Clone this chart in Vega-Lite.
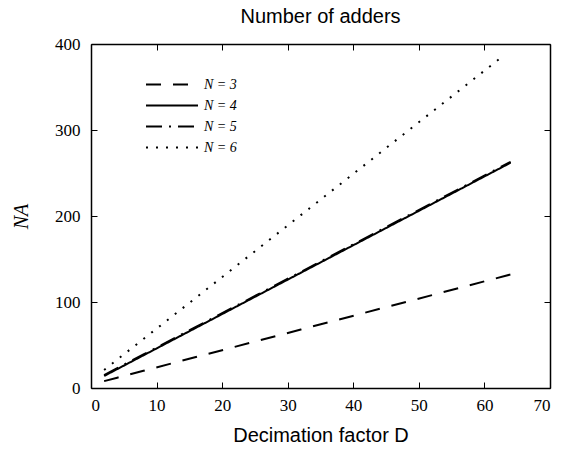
{
  "$schema": "https://vega.github.io/schema/vega-lite/v6.json",
  "width": 459,
  "height": 344,
  "autosize": {"type": "none"},
  "padding": {"left": 91, "top": 44, "right": 21, "bottom": 64},
  "background": "white",
  "title": {"text": "Number of adders", "font": "Liberation Sans", "fontSize": 20, "fontWeight": "normal", "color": "black", "anchor": "middle", "frame": "group", "baseline": "bottom", "offset": -12},
  "config": {
    "view": {"stroke": null},
    "axis": {"grid": false, "domainColor": "black", "domainWidth": 1.5, "tickColor": "black", "tickWidth": 1, "tickSize": -6, "labelFont": "Liberation Serif", "labelFontSize": 17, "labelColor": "black", "titleColor": "black", "titleFontWeight": "normal"}
  },
  "data": {"values": [
    {"D": 2, "NA": 8, "N": "N = 3"},
    {"D": 4, "NA": 12, "N": "N = 3"},
    {"D": 8, "NA": 20, "N": "N = 3"},
    {"D": 16, "NA": 36, "N": "N = 3"},
    {"D": 32, "NA": 68, "N": "N = 3"},
    {"D": 64, "NA": 132, "N": "N = 3"},
    {"D": 2, "NA": 14, "N": "N = 4"},
    {"D": 4, "NA": 22, "N": "N = 4"},
    {"D": 8, "NA": 38, "N": "N = 4"},
    {"D": 16, "NA": 70, "N": "N = 4"},
    {"D": 32, "NA": 134, "N": "N = 4"},
    {"D": 64, "NA": 262, "N": "N = 4"},
    {"D": 2, "NA": 15, "N": "N = 5"},
    {"D": 4, "NA": 23, "N": "N = 5"},
    {"D": 8, "NA": 39, "N": "N = 5"},
    {"D": 16, "NA": 71, "N": "N = 5"},
    {"D": 32, "NA": 135, "N": "N = 5"},
    {"D": 64, "NA": 263, "N": "N = 5"},
    {"D": 2, "NA": 21, "N": "N = 6"},
    {"D": 4, "NA": 33, "N": "N = 6"},
    {"D": 8, "NA": 57, "N": "N = 6"},
    {"D": 16, "NA": 105, "N": "N = 6"},
    {"D": 32, "NA": 201, "N": "N = 6"},
    {"D": 63, "NA": 387, "N": "N = 6"}
  ]},
  "layer": [
    {
      "mark": {"type": "line", "color": "black", "strokeWidth": 2},
      "encoding": {
        "x": {"field": "D", "type": "quantitative", "scale": {"domain": [0, 70], "nice": false}, "axis": {"orient": "bottom", "values": [0, 10, 20, 30, 40, 50, 60, 70], "labelPadding": 15, "title": "Decimation factor D", "titleFont": "Liberation Sans", "titleFontSize": 20, "titlePadding": 12}},
        "y": {"field": "NA", "type": "quantitative", "scale": {"domain": [0, 400], "nice": false}, "axis": {"orient": "left", "values": [0, 100, 200, 300, 400], "labelPadding": 17, "title": "NA", "titleFont": "Liberation Serif", "titleFontStyle": "italic", "titleFontSize": 20, "titlePadding": 23}},
        "strokeDash": {"field": "N", "type": "nominal", "scale": {"domain": ["N = 3", "N = 4", "N = 5", "N = 6"], "range": [[15, 12], [1, 0], [16, 7, 2, 7], [2, 8]]},
          "legend": {"title": null, "orient": "none", "legendX": 54, "legendY": 30, "padding": 0, "symbolType": "stroke", "symbolSize": 2704, "symbolStrokeWidth": 2, "symbolStrokeColor": "black", "clipHeight": 21, "rowPadding": 0, "labelOffset": 5, "labelFont": "Liberation Serif", "labelFontStyle": "italic", "labelFontSize": 14, "labelColor": "black", "fillColor": null, "strokeColor": null}}
      }
    },
    {
      "mark": {"type": "rule", "opacity": 0},
      "encoding": {
        "x": {"field": "D", "type": "quantitative", "axis": {"orient": "top", "values": [0, 10, 20, 30, 40, 50, 60, 70], "labels": false, "title": null}},
        "y": {"field": "NA", "type": "quantitative", "axis": {"orient": "right", "values": [0, 100, 200, 300, 400], "labels": false, "title": null}}
      }
    }
  ],
  "resolve": {"axis": {"x": "independent", "y": "independent"}}
}
